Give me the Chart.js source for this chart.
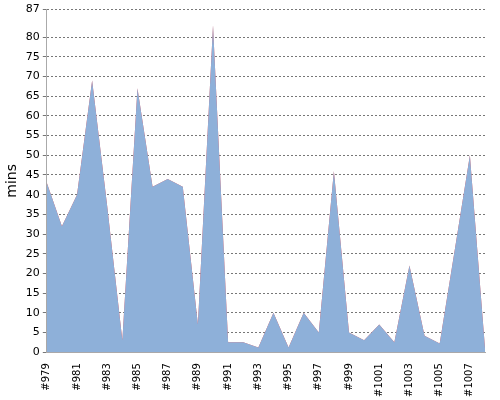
<!DOCTYPE html>
<html>
<head>
<meta charset="utf-8">
<script src="https://cdn.jsdelivr.net/npm/chart.js@4"></script>
<style>
  html, body { margin: 0; padding: 0; background: #fff; }
  #wrap { width: 500px; height: 400px; }
</style>
</head>
<body>
<div id="wrap"><canvas id="c"></canvas></div>
<script>
// builds #979 .. #1008
const labels = [];
for (let n = 979; n <= 1008; n++) labels.push('#' + n);

const mins = [43, 32, 40, 69, 37, 3, 67, 42, 44, 42, 7, 83, 2.5, 2.5, 1.2,
              10, 1.2, 10, 5, 46, 5, 3, 7, 2.5, 22, 4.2, 2.2, 26, 50, 1];

// builds highlighted in red
const redBuilds = ['#981', '#993', '#995', '#1003', '#1004'];

// clip the red copy of the area to the bands of the highlighted builds
const redClip = {
  id: 'redClip',
  beforeDatasetDraw(chart, args) {
    if (args.index !== 1) return;
    const x = chart.scales.x, area = chart.chartArea, ctx = chart.ctx;
    const half = (x.getPixelForValue(1) - x.getPixelForValue(0)) / 2;
    ctx.save();
    ctx.beginPath();
    redBuilds.forEach(b => {
      const px = x.getPixelForValue(labels.indexOf(b));
      ctx.rect(px - half, area.top, half * 2, area.bottom - area.top);
    });
    ctx.clip();
  },
  afterDatasetDraw(chart, args) {
    if (args.index === 1) chart.ctx.restore();
  }
};

new Chart(document.getElementById('c'), {
  type: 'line',
  data: {
    labels: labels,
    datasets: [
      { data: mins, fill: 'origin', backgroundColor: '#8eb0d9', borderWidth: 0, pointRadius: 0, tension: 0 },
      { data: mins, fill: 'origin', backgroundColor: '#f25555', borderWidth: 0, pointRadius: 0, tension: 0 }
    ]
  },
  options: {
    responsive: true,
    maintainAspectRatio: false,
    animation: false,
    layout: { padding: { top: 2, right: 8, left: 2 } },
    plugins: { legend: { display: false }, tooltip: { enabled: false } },
    scales: {
      x: {
        offset: false,
        grid: { display: false, drawTicks: true },
        border: { color: '#aaa' },
        ticks: {
          autoSkip: false, maxRotation: 90, minRotation: 90,
          font: { family: 'DejaVu Sans', size: 10 }, color: '#000',
          callback: function(v, i) { return i % 2 === 0 ? labels[i] : ''; }
        }
      },
      y: {
        min: 0, max: 87,
        title: { display: true, text: 'mins', font: { family: 'DejaVu Sans', size: 14 }, color: '#000', padding: 2 },
        grid: { color: '#777', drawTicks: true, tickLength: 4 },
        border: { color: '#aaa', dash: [2, 2] },
        ticks: { stepSize: 5, font: { family: 'DejaVu Sans', size: 11 }, color: '#000' }
      }
    }
  },
  plugins: [redClip]
});
</script>
</body>
</html>
